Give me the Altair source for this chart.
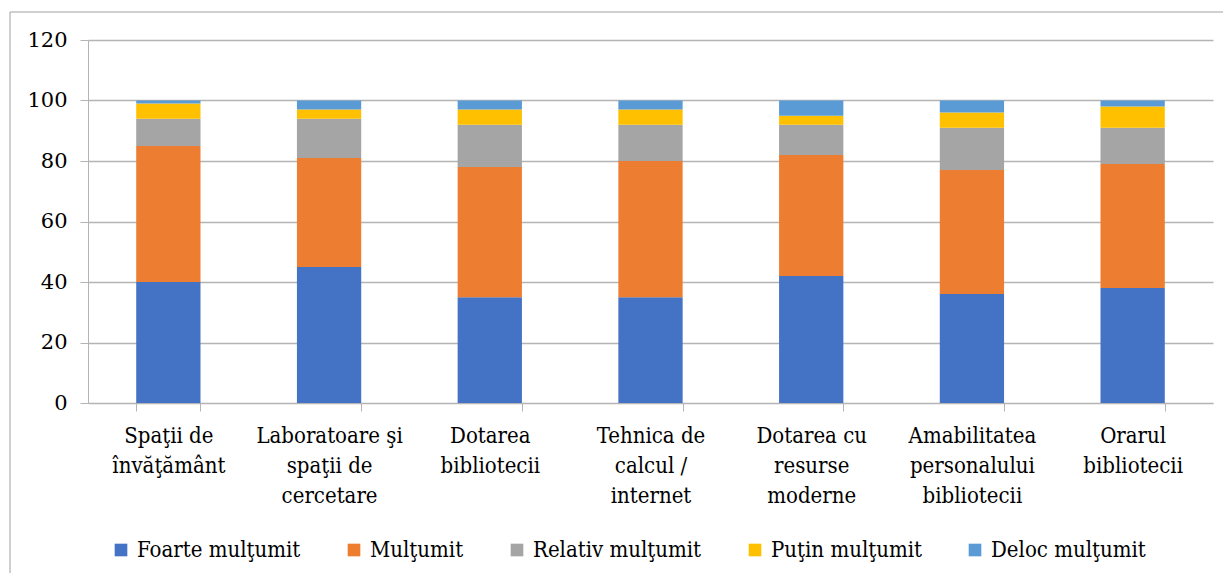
import altair as alt
import pandas as pd

categories = [
    "Spaţii de|învăţământ",
    "Laboratoare şi|spaţii de|cercetare",
    "Dotarea|bibliotecii",
    "Tehnica de|calcul /|internet",
    "Dotarea cu|resurse|moderne",
    "Amabilitatea|personalului|bibliotecii",
    "Orarul|bibliotecii",
]
series = ["Foarte mulţumit", "Mulţumit", "Relativ mulţumit", "Puţin mulţumit", "Deloc mulţumit"]
colors = ["#4472C4", "#ED7D31", "#A5A5A5", "#FFC000", "#5B9BD5"]

foarte = [40, 45, 35, 35, 42, 36, 38]
multumit = [45, 36, 43, 45, 40, 41, 41]
relativ = [9, 13, 14, 12, 10, 14, 12]
putin = [5, 3, 5, 5, 3, 5, 7]
deloc = [1, 3, 3, 3, 5, 4, 2]

rows = []
for si, (name, vals) in enumerate(zip(series, [foarte, multumit, relativ, putin, deloc])):
    for c, v in zip(categories, vals):
        rows.append({"cat": c, "series": name, "value": v, "idx": si})
df = pd.DataFrame(rows)

FONT = "DejaVu Serif Condensed"
FONT_Y = "DejaVu Serif"

bars = alt.Chart(df).mark_bar().encode(
    x=alt.X("cat:N", sort=categories, title=None,
            scale=alt.Scale(paddingInner=0.6, paddingOuter=0.3),
            axis=alt.Axis(labelAngle=0, labelExpr="split(datum.label, '|')",
                          labelLineHeight=30, labelPadding=14, tickBand="extent",
                          labelFont=FONT, labelFontSize=22,
                          domainColor="#B4B4B4", tickColor="#B4B4B4", tickSize=8,
                          labelBaseline="top")),
    y=alt.Y("value:Q", stack="zero", title=None,
            scale=alt.Scale(domain=[0, 120]),
            axis=alt.Axis(values=[0, 20, 40, 60, 80, 100, 120], labelPadding=13,
                          labelFont=FONT_Y, labelFontSize=21,
                          domainColor="#B4B4B4", tickColor="#B4B4B4", tickSize=8,
                          gridColor="#B4B4B4", gridWidth=1.3)),
    color=alt.Color("series:N", sort=series,
                    scale=alt.Scale(domain=series, range=colors),
                    legend=alt.Legend(title=None, orient="none", legendX=22, legendY=499,
                                      direction="horizontal", columns=5,
                                      symbolType="square", symbolSize=160,
                                      symbolStrokeWidth=0,
                                      labelFont=FONT, labelFontSize=22,
                                      labelOffset=5, columnPadding=42, labelLimit=400)),
    order=alt.Order("idx:Q", sort="ascending"),
)

frame = alt.Chart(pd.DataFrame({"a": [0]})).mark_rect(
    fill=None, stroke="#A0A0A0", strokeWidth=1
).encode(x=alt.value(-78), x2=alt.value(1200), y=alt.value(-28), y2=alt.value(600))

chart = alt.layer(frame, bars).properties(
    width=1125, height=363,
    autosize=alt.AutoSizeParams(type="none"),
    padding={"left": 80, "top": 32, "right": 10, "bottom": 170},
).configure_axis(
    labelColor="#000000"
).configure_legend(
    labelColor="#000000"
).configure_view(stroke=None)

chart.save("out.html", embed_options={"renderer": "svg", "actions": False})
